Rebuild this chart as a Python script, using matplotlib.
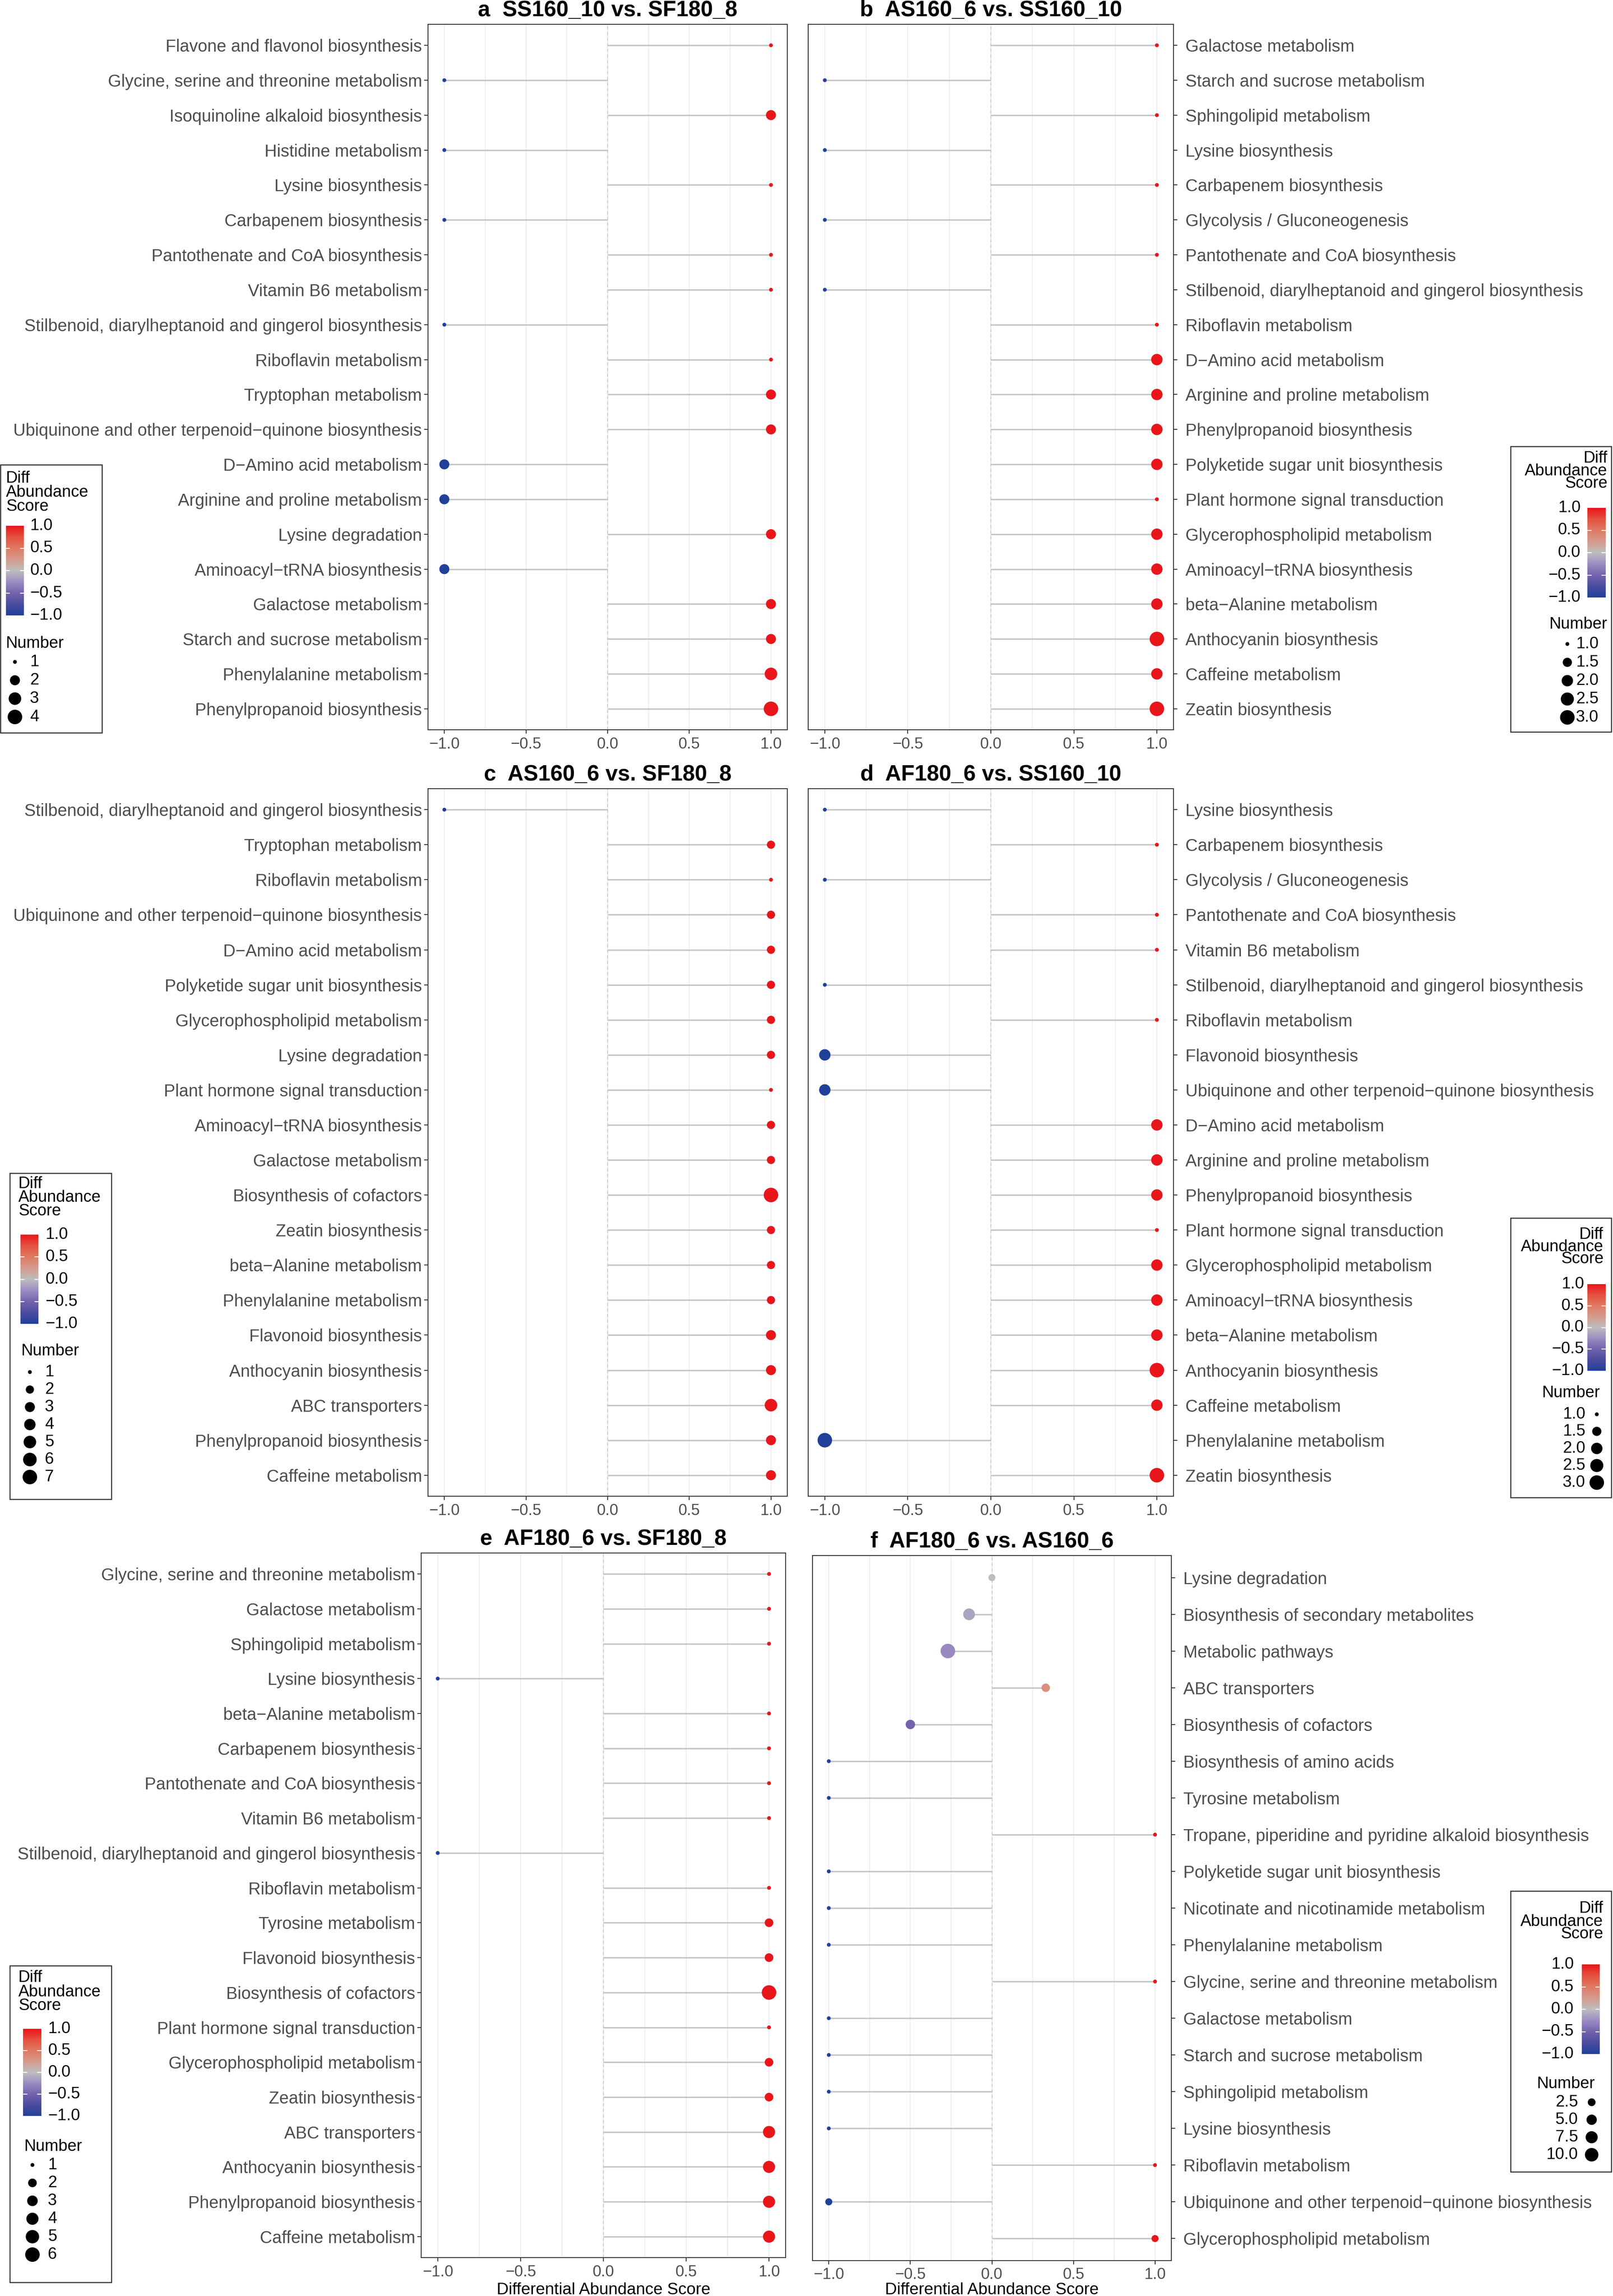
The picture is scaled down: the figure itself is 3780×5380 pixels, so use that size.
import numpy as np
import matplotlib
matplotlib.use("Agg")
import matplotlib.pyplot as plt
from matplotlib.colors import LinearSegmentedColormap

plt.rcParams['font.family'] = ['Liberation Sans', 'DejaVu Sans']

# --------------------------------------------------
# Data (top row first)
# --------------------------------------------------
a_labels = ["Flavone and flavonol biosynthesis", "Glycine, serine and threonine metabolism",
            "Isoquinoline alkaloid biosynthesis", "Histidine metabolism", "Lysine biosynthesis",
            "Carbapenem biosynthesis", "Pantothenate and CoA biosynthesis", "Vitamin B6 metabolism",
            "Stilbenoid, diarylheptanoid and gingerol biosynthesis", "Riboflavin metabolism",
            "Tryptophan metabolism", "Ubiquinone and other terpenoid\u2212quinone biosynthesis",
            "D\u2212Amino acid metabolism", "Arginine and proline metabolism", "Lysine degradation",
            "Aminoacyl\u2212tRNA biosynthesis", "Galactose metabolism", "Starch and sucrose metabolism",
            "Phenylalanine metabolism", "Phenylpropanoid biosynthesis"]
a_score = [1, -1, 1, -1, 1, -1, 1, 1, -1, 1, 1, 1, -1, -1, 1, -1, 1, 1, 1, 1]
a_number = [1, 1, 2, 1, 1, 1, 1, 1, 1, 1, 2, 2, 2, 2, 2, 2, 2, 2, 3, 4]

b_labels = ["Galactose metabolism", "Starch and sucrose metabolism", "Sphingolipid metabolism",
            "Lysine biosynthesis", "Carbapenem biosynthesis", "Glycolysis / Gluconeogenesis",
            "Pantothenate and CoA biosynthesis", "Stilbenoid, diarylheptanoid and gingerol biosynthesis",
            "Riboflavin metabolism", "D\u2212Amino acid metabolism", "Arginine and proline metabolism",
            "Phenylpropanoid biosynthesis", "Polyketide sugar unit biosynthesis",
            "Plant hormone signal transduction", "Glycerophospholipid metabolism",
            "Aminoacyl\u2212tRNA biosynthesis", "beta\u2212Alanine metabolism", "Anthocyanin biosynthesis",
            "Caffeine metabolism", "Zeatin biosynthesis"]
b_score = [1, -1, 1, -1, 1, -1, 1, -1, 1, 1, 1, 1, 1, 1, 1, 1, 1, 1, 1, 1]
b_number = [1, 1, 1, 1, 1, 1, 1, 1, 1, 2, 2, 2, 2, 1, 2, 2, 2, 3, 2, 3]

c_labels = ["Stilbenoid, diarylheptanoid and gingerol biosynthesis", "Tryptophan metabolism",
            "Riboflavin metabolism", "Ubiquinone and other terpenoid\u2212quinone biosynthesis",
            "D\u2212Amino acid metabolism", "Polyketide sugar unit biosynthesis",
            "Glycerophospholipid metabolism", "Lysine degradation", "Plant hormone signal transduction",
            "Aminoacyl\u2212tRNA biosynthesis", "Galactose metabolism", "Biosynthesis of cofactors",
            "Zeatin biosynthesis", "beta\u2212Alanine metabolism", "Phenylalanine metabolism",
            "Flavonoid biosynthesis", "Anthocyanin biosynthesis", "ABC transporters",
            "Phenylpropanoid biosynthesis", "Caffeine metabolism"]
c_score = [-1, 1, 1, 1, 1, 1, 1, 1, 1, 1, 1, 1, 1, 1, 1, 1, 1, 1, 1, 1]
c_number = [1, 2, 1, 2, 2, 2, 2, 2, 1, 2, 2, 7, 2, 2, 2, 3, 3, 5, 3, 3]

d_labels = ["Lysine biosynthesis", "Carbapenem biosynthesis", "Glycolysis / Gluconeogenesis",
            "Pantothenate and CoA biosynthesis", "Vitamin B6 metabolism",
            "Stilbenoid, diarylheptanoid and gingerol biosynthesis", "Riboflavin metabolism",
            "Flavonoid biosynthesis", "Ubiquinone and other terpenoid\u2212quinone biosynthesis",
            "D\u2212Amino acid metabolism", "Arginine and proline metabolism",
            "Phenylpropanoid biosynthesis", "Plant hormone signal transduction",
            "Glycerophospholipid metabolism", "Aminoacyl\u2212tRNA biosynthesis",
            "beta\u2212Alanine metabolism", "Anthocyanin biosynthesis", "Caffeine metabolism",
            "Phenylalanine metabolism", "Zeatin biosynthesis"]
d_score = [-1, 1, -1, 1, 1, -1, 1, -1, -1, 1, 1, 1, 1, 1, 1, 1, 1, 1, -1, 1]
d_number = [1, 1, 1, 1, 1, 1, 1, 2, 2, 2, 2, 2, 1, 2, 2, 2, 3, 2, 3, 3]

e_labels = ["Glycine, serine and threonine metabolism", "Galactose metabolism",
            "Sphingolipid metabolism", "Lysine biosynthesis", "beta\u2212Alanine metabolism",
            "Carbapenem biosynthesis", "Pantothenate and CoA biosynthesis", "Vitamin B6 metabolism",
            "Stilbenoid, diarylheptanoid and gingerol biosynthesis", "Riboflavin metabolism",
            "Tyrosine metabolism", "Flavonoid biosynthesis", "Biosynthesis of cofactors",
            "Plant hormone signal transduction", "Glycerophospholipid metabolism",
            "Zeatin biosynthesis", "ABC transporters", "Anthocyanin biosynthesis",
            "Phenylpropanoid biosynthesis", "Caffeine metabolism"]
e_score = [1, 1, 1, -1, 1, 1, 1, 1, -1, 1, 1, 1, 1, 1, 1, 1, 1, 1, 1, 1]
e_number = [1, 1, 1, 1, 1, 1, 1, 1, 1, 1, 2, 2, 6, 1, 2, 2, 4, 4, 4, 4]

f_labels = ["Lysine degradation", "Biosynthesis of secondary metabolites", "Metabolic pathways",
            "ABC transporters", "Biosynthesis of cofactors", "Biosynthesis of amino acids",
            "Tyrosine metabolism", "Tropane, piperidine and pyridine alkaloid biosynthesis",
            "Polyketide sugar unit biosynthesis", "Nicotinate and nicotinamide metabolism",
            "Phenylalanine metabolism", "Glycine, serine and threonine metabolism",
            "Galactose metabolism", "Starch and sucrose metabolism", "Sphingolipid metabolism",
            "Lysine biosynthesis", "Riboflavin metabolism",
            "Ubiquinone and other terpenoid\u2212quinone biosynthesis", "Glycerophospholipid metabolism"]
f_score = [0.0, -0.14, -0.27, 0.33, -0.5, -1, -1, 1, -1, -1, -1, 1, -1, -1, -1, -1, 1, -1, 1]
f_number = [2, 7, 12, 3, 4, 1, 1, 1, 1, 1, 1, 1, 1, 1, 1, 1, 1, 2, 2]

titles = ["a  SS160_10 vs. SF180_8", "b  AS160_6 vs. SS160_10", "c  AS160_6 vs. SF180_8",
          "d  AF180_6 vs. SS160_10", "e  AF180_6 vs. SF180_8", "f  AF180_6 vs. AS160_6"]

x_ticks = [-1.0, -0.5, 0.0, 0.5, 1.0]
x_tick_labels = ["\u22121.0", "\u22120.5", "0.0", "0.5", "1.0"]
cbar_ticks = [1.0, 0.5, 0.0, -0.5, -1.0]
cbar_labels = ["1.0", "0.5", "0.0", "\u22120.5", "\u22121.0"]

size_breaks = {
    "a": ([1, 2, 3, 4], ["1", "2", "3", "4"]),
    "b": ([1, 1.5, 2, 2.5, 3], ["1.0", "1.5", "2.0", "2.5", "3.0"]),
    "c": ([1, 2, 3, 4, 5, 6, 7], ["1", "2", "3", "4", "5", "6", "7"]),
    "d": ([1, 1.5, 2, 2.5, 3], ["1.0", "1.5", "2.0", "2.5", "3.0"]),
    "e": ([1, 2, 3, 4, 5, 6], ["1", "2", "3", "4", "5", "6"]),
    "f": ([2.5, 5, 7.5, 10], ["2.5", "5.0", "7.5", "10.0"]),
}

# --------------------------------------------------
# Figure setup (work in pixel units of the 3780x5380 output)
# --------------------------------------------------
W, H, DPI = 3780, 5380, 300
PT = 72.0 / DPI  # points per pixel

cmap = LinearSegmentedColormap.from_list("diff", [
    (0.0, "#21409A"), (0.125, "#4B4CA0"), (0.25, "#7363AD"), (0.375, "#9D8CC2"),
    (0.5, "#BEBEBE"), (0.625, "#D59B8D"), (0.75, "#E07A63"), (0.875, "#E55240"),
    (1.0, "#E8161B")])


def marker_area(n, nmin, nmax):
    # ggplot-like area scale: diameter from 9 px to 34 px
    n = np.asarray(n, dtype=float)
    frac = np.clip((n - nmin) / (nmax - nmin), 0, 1)
    diam = 9 + 25 * np.sqrt(frac)
    return (diam * PT) ** 2


fig = plt.figure(figsize=(W / DPI, H / DPI), dpi=DPI)


def draw_panel(box, labels, score, number, title, side, show_xlabel=False):
    l, t, r, b = box
    ax = fig.add_axes([l / W, 1 - b / H, (r - l) / W, (b - t) / H])
    n = len(labels)
    y = np.arange(n)
    nmin, nmax = min(number), max(number)
    ax.set_xlim(-1.1, 1.1)
    ax.set_ylim(n - 0.4, -0.6)
    for gx in np.arange(-1, 1.01, 0.25):
        ax.axvline(gx, color="#EBEBEB", lw=0.45, zorder=0)
    ax.axvline(0, color="#C8C8C8", lw=0.45, ls=(0, (4, 3)), zorder=0.5)
    ax.hlines(y, 0, score, color="#C4C4C4", lw=0.8, zorder=1)
    ax.scatter(score, y, s=marker_area(number, nmin, nmax), c=score, cmap=cmap,
               vmin=-1, vmax=1, edgecolors="none", zorder=3)
    ax.set_yticks(y)
    ax.set_yticklabels(labels, fontsize=9.6, color="#4D4D4D")
    ax.set_xticks(x_ticks)
    ax.set_xticklabels(x_tick_labels, fontsize=8.8, color="#4D4D4D")
    ax.tick_params(axis="both", length=9 * PT, width=0.5, color="#333333")
    ax.tick_params(axis="x", pad=1.8)
    if side == "right":
        ax.yaxis.tick_right()
        ax.tick_params(axis="y", pad=4.6)
    else:
        ax.tick_params(axis="y", pad=1.2)
    for s in ax.spines.values():
        s.set_color("#333333")
        s.set_linewidth(0.5)
    fig.text(((l + r) / 2) / W, 1 - (t - 19) / H, title, ha="center", va="baseline",
             fontsize=12.4, fontweight="bold", color="black")
    if show_xlabel:
        fig.text(((l + r) / 2) / W, 1 - 5366 / H, "Differential Abundance Score",
                 ha="center", va="center", fontsize=9.3, color="black")
    return ax


panel_boxes = [(1003, 57, 1845, 1710), (1894, 57, 2750, 1710),
               (1003, 1848, 1845, 3506), (1894, 1848, 2750, 3506),
               (987, 3639, 1841, 5290), (1904, 3645, 2745, 5297)]
panel_data = [(a_labels, a_score, a_number), (b_labels, b_score, b_number),
              (c_labels, c_score, c_number), (d_labels, d_score, d_number),
              (e_labels, e_score, e_number), (f_labels, f_score, f_number)]
sides = ["left", "right", "left", "right", "left", "right"]

for i in range(6):
    labs, sc, num = panel_data[i]
    draw_panel(panel_boxes[i], labs, sc, num, titles[i], sides[i], show_xlabel=(i >= 4))

# --------------------------------------------------
# Legends (drawn by hand, one per panel)
# --------------------------------------------------
ov = fig.add_axes([0, 0, 1, 1])
ov.set_xlim(0, W)
ov.set_ylim(H, 0)
ov.axis("off")

legend_specs = {
    "a": dict(box=(1, 1089, 239, 1717), tx=14, tha="left", ty=[1121, 1154, 1187],
              cb=(14, 56, 1232, 1442), clx=70, cha="left", nx=14, nha="left", ny=1508,
              e0=1551, edy=43, dx=35, elx=70, eha="left"),
    "b": dict(box=(3540, 1046, 3776, 1715), tx=3767, tha="right", ty=[1074, 1104, 1133],
              cb=(3720, 3763, 1190, 1400), clx=3704, cha="right", nx=3767, nha="right", ny=1463,
              e0=1509, edy=43, dx=3673, elx=3693, eha="left"),
    "c": dict(box=(23, 2749, 261, 3513), tx=43, tha="left", ty=[2774, 2806, 2838],
              cb=(48, 90, 2893, 3102), clx=106, cha="left", nx=50, nha="left", ny=3166,
              e0=3215, edy=41, dx=70, elx=105, eha="left"),
    "d": dict(box=(3540, 2854, 3776, 3509), tx=3758, tha="right", ty=[2893, 2922, 2950],
              cb=(3720, 3763, 3009, 3212), clx=3712, cha="right", nx=3750, nha="right", ny=3264,
              e0=3314, edy=40, dx=3742, elx=3715, eha="right"),
    "e": dict(box=(23, 4606, 261, 5348), tx=43, tha="left", ty=[4634, 4668, 4700],
              cb=(54, 97, 4754, 4958), clx=112, cha="left", nx=57, nha="left", ny=5030,
              e0=5073, edy=42, dx=76, elx=112, eha="left"),
    "f": dict(box=(3540, 4431, 3776, 5089), tx=3757, tha="right", ty=[4472, 4503, 4532],
              cb=(3707, 3748, 4603, 4813), clx=3688, cha="right", nx=3738, nha="right", ny=4883,
              e0=4926, edy=41, dx=3730, elx=3698, eha="right"),
}
panel_numbers = {"a": a_number, "b": b_number, "c": c_number,
                 "d": d_number, "e": e_number, "f": f_number}

LFS = 9.2
for key, sp in legend_specs.items():
    x0, y0, x1, y1 = sp["box"]
    ov.add_patch(plt.Rectangle((x0, y0), x1 - x0, y1 - y0, fill=False,
                               edgecolor="#333333", lw=0.6))
    for line, ty in zip(["Diff", "Abundance", "Score"], sp["ty"]):
        ov.text(sp["tx"], ty, line, ha=sp["tha"], va="center", fontsize=LFS, color="black")
    # colour bar
    cx0, cx1, ct, cb_ = sp["cb"]
    cax = fig.add_axes([cx0 / W, 1 - cb_ / H, (cx1 - cx0) / W, (cb_ - ct) / H])
    cax.imshow(np.linspace(1, -1, 256)[:, None], aspect="auto", cmap=cmap, vmin=-1, vmax=1,
               extent=[0, 1, -1, 1])
    for v in [0.5, 0.0, -0.5]:
        cax.plot([0, 0.2], [v, v], color="white", lw=0.5)
        cax.plot([0.8, 1], [v, v], color="white", lw=0.5)
    cax.set_xlim(0, 1)
    cax.set_ylim(-1, 1)
    cax.axis("off")
    for v, lab in zip(cbar_ticks, cbar_labels):
        yy = ct + (1 - v) / 2 * (cb_ - ct)
        ov.text(sp["clx"], yy, lab, ha=sp["cha"], va="center", fontsize=LFS, color="black")
    # size legend
    ov.text(sp["nx"], sp["ny"], "Number", ha=sp["nha"], va="center", fontsize=LFS, color="black")
    nums = panel_numbers[key]
    brk, brk_lab = size_breaks[key]
    ey = [sp["e0"] + i * sp["edy"] for i in range(len(brk))]
    ov.scatter([sp["dx"]] * len(brk), ey, s=marker_area(brk, min(nums), max(nums)),
               color="black", edgecolors="none")
    for yy, lab in zip(ey, brk_lab):
        ov.text(sp["elx"], yy, lab, ha=sp["eha"], va="center", fontsize=LFS, color="black")

fig.savefig("out.png", dpi=DPI)
